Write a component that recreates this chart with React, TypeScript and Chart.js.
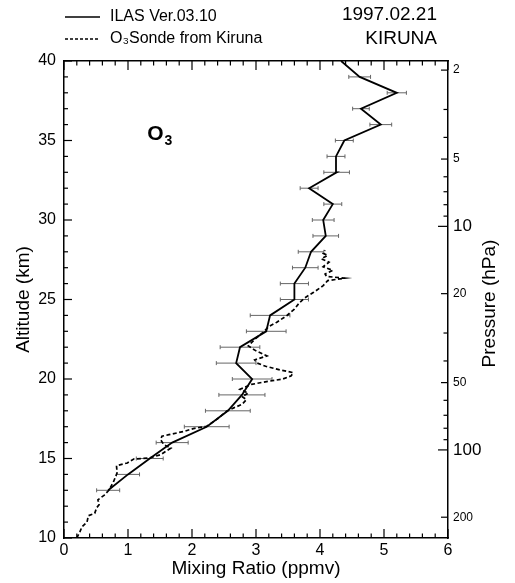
import React, { useEffect, useRef } from "react";
import { Chart, registerables } from "chart.js";

Chart.register(...registerables);

// ILAS Ver.03.10 retrieval (altitude km, mixing ratio ppmv, error ppmv)
const ilasAltitudeKm = [13, 14, 15, 16, 17, 18, 19, 20, 21, 22, 23, 24, 25, 26, 27, 28, 29, 30, 31, 32, 33, 34, 35, 36, 37, 38, 39, 40];
const ilasO3Ppmv = [0.69, 1.0, 1.34, 1.69, 2.23, 2.56, 2.78, 2.94, 2.69, 2.75, 3.16, 3.22, 3.6, 3.6, 3.77, 3.86, 4.09, 4.05, 4.2, 3.83, 4.26, 4.25, 4.38, 4.95, 4.64, 5.2, 4.62, 4.33];
const ilasErrPpmv = [0.18, 0.18, 0.21, 0.25, 0.35, 0.35, 0.36, 0.31, 0.31, 0.31, 0.31, 0.31, 0.22, 0.22, 0.2, 0.2, 0.2, 0.17, 0.14, 0.14, 0.2, 0.14, 0.14, 0.17, 0.13, 0.15, 0.17, 0];

// O3 sonde from Kiruna
const sondeAltitudeKm = [10.0, 10.4, 10.7, 11.0, 11.4, 11.55, 11.9, 12.1, 12.4, 12.7, 13.0, 13.5, 14.1, 14.55, 14.72, 14.97, 15.03, 15.24, 15.66, 15.87, 16.18, 16.4, 16.5, 16.71, 16.88, 17.03, 17.5, 17.97, 18.2, 18.4, 18.7, 18.9, 19.1, 19.35, 19.66, 19.8, 20.0, 20.2, 20.4, 20.55, 20.8, 21.0, 21.2, 21.45, 21.77, 22.08, 22.5, 22.93, 23.3, 23.56, 23.98, 24.4, 24.8, 25.1, 25.45, 25.87, 26.19, 26.34, 26.45, 26.6, 26.83, 27.06, 27.35, 27.56, 27.77, 27.9, 28.1];
const sondeO3Ppmv = [0.2, 0.25, 0.28, 0.36, 0.38, 0.48, 0.51, 0.55, 0.53, 0.63, 0.7, 0.77, 0.83, 0.82, 0.99, 1.09, 1.33, 1.51, 1.67, 1.56, 1.51, 1.53, 1.64, 1.88, 2.02, 2.23, 2.4, 2.54, 2.66, 2.78, 2.85, 2.78, 2.88, 2.75, 2.93, 3.11, 3.42, 3.55, 3.58, 3.4, 3.15, 3.02, 2.98, 3.17, 3.0, 2.88, 2.98, 3.11, 3.2, 3.32, 3.48, 3.6, 3.68, 3.76, 3.9, 4.05, 4.12, 4.39, 4.1, 4.08, 4.2, 4.05, 4.14, 4.02, 4.12, 4.05, 4.08];

// Right-hand pressure axis
const pressureTicksHPa = [2, 3, 4, 5, 6, 7, 8, 9, 10, 20, 30, 40, 50, 60, 70, 80, 90, 100, 200];
const pressureTickLabels = ["2", "", "", "5", "", "", "", "", "10", "20", "", "", "50", "", "", "", "", "100", "200"];
const pressureLargeLabels = ["10", "100"];
const ALT_AT_1HPA_KM = 43.66;
const KM_PER_PRESSURE_DECADE = 14.06;
const pressureToAltitude = (p: number) => ALT_AT_1HPA_KM - KM_PER_PRESSURE_DECADE * Math.log10(p);

const legendLabels = ["ILAS Ver.03.10", "O\u2083Sonde from Kiruna"];
const dateText = "1997.02.21";
const siteText = "KIRUNA";
const speciesText = "O";
const speciesSub = "3";

const FONT = "'Liberation Sans', Arimo, Arial, Helvetica, sans-serif";

const isInt = (v: number) => Math.abs(v - Math.round(v)) < 1e-6;

const decorPlugin = {
  id: "decor",
  beforeDatasetsDraw(chart: any) {
    const { ctx } = chart;
    const xs = chart.scales.x;
    const ys = chart.scales.y;
    ctx.save();
    ctx.strokeStyle = "#666";
    ctx.lineWidth = 1;
    ilasAltitudeKm.forEach((alt, i) => {
      const e = ilasErrPpmv[i];
      if (!e) return;
      const v = ilasO3Ppmv[i];
      const x1 = xs.getPixelForValue(v - e);
      const x2 = xs.getPixelForValue(v + e);
      const y = ys.getPixelForValue(alt);
      ctx.beginPath();
      ctx.moveTo(x1, y);
      ctx.lineTo(x2, y);
      ctx.moveTo(x1, y - 2);
      ctx.lineTo(x1, y + 2);
      ctx.moveTo(x2, y - 2);
      ctx.lineTo(x2, y + 2);
      ctx.stroke();
    });
    ctx.restore();
  },
  afterDraw(chart: any) {
    const { ctx } = chart;
    const { left, right, top, bottom } = chart.chartArea;
    const xs = chart.scales.x;
    const x2s = chart.scales.x2;
    const ys = chart.scales.y;
    const y2s = chart.scales.y2;
    ctx.save();
    ctx.strokeStyle = "#000";
    ctx.lineWidth = 1.2;
    const seg = (a: number, b: number, c: number, d: number) => {
      ctx.beginPath();
      ctx.moveTo(a, b);
      ctx.lineTo(c, d);
      ctx.stroke();
    };
    xs.ticks.forEach((t: any) => {
      const px = xs.getPixelForValue(t.value);
      seg(px, bottom, px, bottom - (isInt(t.value) ? 9 : 4.5));
    });
    x2s.ticks.forEach((t: any) => {
      const px = x2s.getPixelForValue(t.value);
      seg(px, top, px, top + (isInt(t.value) ? 9 : 4.5));
    });
    ys.ticks.forEach((t: any) => {
      const py = ys.getPixelForValue(t.value);
      seg(left, py, left + (Math.round(t.value) % 5 === 0 ? 8 : 4), py);
    });
    y2s.ticks.forEach((t: any, i: number) => {
      const py = y2s.getPixelForValue(t.value);
      const lab = pressureTickLabels[i];
      const len = pressureLargeLabels.includes(lab) ? 10 : lab ? 7 : 4.5;
      seg(right, py, right - len, py);
    });

    // legend
    const ds0 = chart.data.datasets[0];
    const ds1 = chart.data.datasets[1];
    ctx.lineWidth = 1.5;
    ctx.strokeStyle = ds0.borderColor;
    ctx.setLineDash([]);
    seg(65, 17, 100, 17);
    ctx.strokeStyle = ds1.borderColor;
    ctx.setLineDash([3, 2]);
    seg(65, 39, 100, 39);
    ctx.setLineDash([]);
    ctx.fillStyle = "#000";
    ctx.font = `16px ${FONT}`;
    ctx.textBaseline = "middle";
    ctx.textAlign = "left";
    ctx.fillText(legendLabels[0], 110, 17);
    ctx.fillText(legendLabels[1], 110, 39);

    ctx.font = `19px ${FONT}`;
    ctx.textAlign = "right";
    ctx.fillText(dateText, 437, 15);
    ctx.fillText(siteText, 437, 39);

    // species label inside plot
    const sx = xs.getPixelForValue(1.3);
    const sy = ys.getPixelForValue(35.05);
    ctx.textAlign = "left";
    ctx.textBaseline = "alphabetic";
    ctx.font = `bold 21px ${FONT}`;
    ctx.fillText(speciesText, sx, sy);
    const w = ctx.measureText(speciesText).width;
    ctx.font = `bold 14px ${FONT}`;
    ctx.fillText(speciesSub, sx + w + 1, sy + 5);

    // right axis title (reads bottom to top)
    ctx.save();
    ctx.translate(490, (top + bottom) / 2 + 4);
    ctx.rotate(-Math.PI / 2);
    ctx.textAlign = "center";
    ctx.textBaseline = "middle";
    ctx.font = `19px ${FONT}`;
    ctx.fillText("Pressure (hPa)", 0, 0);
    ctx.restore();

    ctx.restore();
  },
};

export default function App() {
  const canvasRef = useRef<HTMLCanvasElement | null>(null);

  useEffect(() => {
    if (!canvasRef.current) return;
    Chart.defaults.font.family = FONT;
    Chart.defaults.color = "#000";
    const border = { display: true, color: "#000", width: 1.5 };
    const grid = { display: false, drawTicks: false };
    const chart = new Chart(canvasRef.current, {
      type: "scatter",
      data: {
        datasets: [
          {
            label: legendLabels[0],
            data: ilasAltitudeKm.map((a, i) => ({ x: ilasO3Ppmv[i], y: a })),
            showLine: true,
            borderColor: "#000",
            borderWidth: 1.8,
            pointRadius: 0,
            order: 0,
          },
          {
            label: legendLabels[1],
            data: sondeAltitudeKm.map((a, i) => ({ x: sondeO3Ppmv[i], y: a })),
            showLine: true,
            borderColor: "#000",
            borderWidth: 1.7,
            borderDash: [4, 2.5],
            pointRadius: 0,
            order: 1,
          },
        ],
      },
      options: {
        animation: false,
        responsive: false,
        layout: { padding: 0 },
        plugins: { legend: { display: false }, tooltip: { enabled: false } },
        scales: {
          x: {
            type: "linear",
            position: "bottom",
            min: 0,
            max: 6,
            afterFit: (s: any) => { s.height = 45; },
            grid,
            border,
            ticks: {
              stepSize: 0.2,
              autoSkip: false,
              maxRotation: 0,
              padding: 3,
              color: "#000",
              font: { size: 16, family: FONT },
              callback: (v: any) => (isInt(Number(v)) ? String(Math.round(Number(v))) : ""),
            },
            title: {
              display: true,
              text: "Mixing Ratio (ppmv)",
              color: "#000",
              font: { size: 19, family: FONT, lineHeight: 1.2 },
              padding: { top: 0, bottom: 3 },
            },
          },
          x2: {
            type: "linear",
            position: "top",
            min: 0,
            max: 6,
            afterFit: (s: any) => { s.height = 61; },
            grid,
            border,
            ticks: { stepSize: 0.2, autoSkip: false, display: false },
          },
          y: {
            type: "linear",
            position: "left",
            min: 10,
            max: 40,
            afterFit: (s: any) => { s.width = 64; },
            grid,
            border,
            ticks: {
              stepSize: 1,
              autoSkip: false,
              padding: 8,
              color: "#000",
              font: { size: 16, family: FONT },
              callback: (v: any) => (Math.round(Number(v)) % 5 === 0 ? String(v) : ""),
            },
            title: {
              display: true,
              text: "Altitude (km)",
              color: "#000",
              font: { size: 19, family: FONT, lineHeight: 1.2 },
              padding: { top: 12, bottom: 0 },
            },
          },
          y2: {
            type: "linear",
            position: "right",
            min: 10,
            max: 40,
            afterFit: (s: any) => { s.width = 67; },
            afterBuildTicks: (s: any) => {
              s.ticks = pressureTicksHPa.map((p) => ({ value: pressureToAltitude(p) }));
            },
            grid,
            border,
            ticks: {
              autoSkip: false,
              padding: 5,
              color: "#000",
              font: (c: any) => ({
                size: pressureLargeLabels.includes(pressureTickLabels[c.index]) ? 17 : 12,
                family: FONT,
              }),
              callback: (_v: any, i: number) => pressureTickLabels[i],
            },
          },
        },
      },
      plugins: [decorPlugin],
    } as any);
    return () => chart.destroy();
  }, []);

  return (
    <div style={{ position: "absolute", left: 0, top: 0, width: 515, height: 583, background: "#fff" }}>
      <canvas ref={canvasRef} width={515} height={583} style={{ display: "block" }} />
    </div>
  );
}
